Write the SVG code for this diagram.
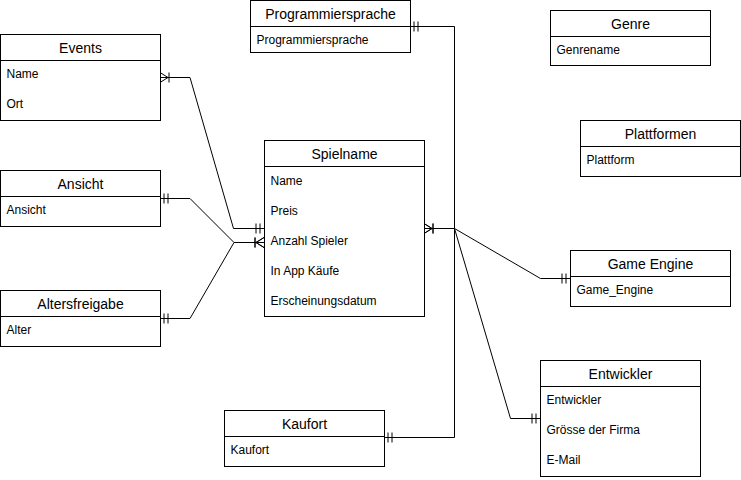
<svg xmlns="http://www.w3.org/2000/svg" width="741" height="480" viewBox="0 0 741 480">
<style>
  .box { fill: #ffffff; stroke: #000000; stroke-width: 1; }
  .div { stroke: #000000; stroke-width: 1; fill: none; }
  .title { font-family: "Liberation Sans", Arial, sans-serif; font-size: 14px; fill: #000000; text-anchor: middle; }
  .attr { font-family: "Liberation Sans", Arial, sans-serif; font-size: 12px; fill: #000000; }
  .conn { fill: none; stroke: #000000; stroke-width: 1; }
</style>
<defs>
  <marker id="mandOne" markerUnits="userSpaceOnUse" viewBox="0 0 20 20" markerWidth="20" markerHeight="20" refX="10" refY="10" orient="auto-start-reverse" overflow="visible">
    <path d="M6,5 V15 M2,5 V15" fill="none" stroke="#000" stroke-width="1"/>
  </marker>
  <marker id="oneMany" markerUnits="userSpaceOnUse" viewBox="0 0 20 20" markerWidth="20" markerHeight="20" refX="10" refY="10" orient="auto-start-reverse" overflow="visible">
    <path d="M10,5 L2,10 L10,15 M1,5 V15" fill="none" stroke="#000" stroke-width="1"/>
  </marker>
</defs>
<rect width="741" height="480" fill="#ffffff"/>

<g id="connectors">
  <path class="conn" d="M160,77.5 H190 L233.5,228.5 H264" marker-start="url(#oneMany)" marker-end="url(#mandOne)"/>
  <path class="conn" d="M160,198.5 H190 L234,242.5 H264" marker-start="url(#mandOne)" marker-end="url(#oneMany)"/>
  <path class="conn" d="M160,318.5 H190 L234,242.5 H264" marker-start="url(#mandOne)" marker-end="url(#oneMany)"/>
  <path class="conn" d="M410,26.5 H454.5 V228.5 H424" marker-start="url(#mandOne)" marker-end="url(#oneMany)"/>
  <path class="conn" d="M384,437.5 H454.5 V228.5 H424" marker-start="url(#mandOne)" marker-end="url(#oneMany)"/>
  <path class="conn" d="M424,228.5 H454.5 L540.5,278.5 H570" marker-end="url(#mandOne)"/>
  <path class="conn" d="M424,228.5 H454.5 L510.5,418.5 H540" marker-end="url(#mandOne)"/>
</g>

<g id="events">
  <rect class="box" x="0.5" y="34.5" width="160" height="86"/>
  <path class="div" d="M0.5,60.5 H160.5"/>
  <text class="title" x="80.5" y="52.5">Events</text>
  <text class="attr" x="6.5" y="78">Name</text>
  <text class="attr" x="6.5" y="108">Ort</text>
</g>

<g id="programmiersprache">
  <rect class="box" x="250.5" y="0.5" width="160" height="52"/>
  <path class="div" d="M250.5,26.5 H410.5"/>
  <text class="title" x="330.5" y="19">Programmiersprache</text>
  <text class="attr" x="256.5" y="44">Programmiersprache</text>
</g>

<g id="genre">
  <rect class="box" x="550.5" y="10.5" width="160" height="55"/>
  <path class="div" d="M550.5,36.5 H710.5"/>
  <text class="title" x="630.5" y="29">Genre</text>
  <text class="attr" x="556.5" y="54">Genrename</text>
</g>

<g id="plattformen">
  <rect class="box" x="580.5" y="120.5" width="160" height="56"/>
  <path class="div" d="M580.5,146.5 H740.5"/>
  <text class="title" x="660.5" y="139">Plattformen</text>
  <text class="attr" x="586.5" y="164">Plattform</text>
</g>

<g id="spielname">
  <rect class="box" x="264.5" y="140.5" width="160" height="176"/>
  <path class="div" d="M264.5,166.5 H424.5"/>
  <text class="title" x="344.5" y="159">Spielname</text>
  <text class="attr" x="270.5" y="185">Name</text>
  <text class="attr" x="270.5" y="215">Preis</text>
  <text class="attr" x="270.5" y="245">Anzahl Spieler</text>
  <text class="attr" x="270.5" y="275">In App Käufe</text>
  <text class="attr" x="270.5" y="305">Erscheinungsdatum</text>
</g>

<g id="ansicht">
  <rect class="box" x="0.5" y="170.5" width="160" height="56"/>
  <path class="div" d="M0.5,196.5 H160.5"/>
  <text class="title" x="80.5" y="189">Ansicht</text>
  <text class="attr" x="6.5" y="214">Ansicht</text>
</g>

<g id="altersfreigabe">
  <rect class="box" x="0.5" y="290.5" width="160" height="56"/>
  <path class="div" d="M0.5,316.5 H160.5"/>
  <text class="title" x="80.5" y="309">Altersfreigabe</text>
  <text class="attr" x="6.5" y="334">Alter</text>
</g>

<g id="game-engine">
  <rect class="box" x="570.5" y="250.5" width="160" height="56"/>
  <path class="div" d="M570.5,276.5 H730.5"/>
  <text class="title" x="650.5" y="269">Game Engine</text>
  <text class="attr" x="576.5" y="294">Game_Engine</text>
</g>

<g id="entwickler">
  <rect class="box" x="540.5" y="360.5" width="160" height="116"/>
  <path class="div" d="M540.5,386.5 H700.5"/>
  <text class="title" x="620.5" y="379">Entwickler</text>
  <text class="attr" x="546.5" y="404">Entwickler</text>
  <text class="attr" x="546.5" y="434">Grösse der Firma</text>
  <text class="attr" x="546.5" y="464">E-Mail</text>
</g>

<g id="kaufort">
  <rect class="box" x="224.5" y="410.5" width="160" height="56"/>
  <path class="div" d="M224.5,436.5 H384.5"/>
  <text class="title" x="304.5" y="429">Kaufort</text>
  <text class="attr" x="230.5" y="454">Kaufort</text>
</g>
</svg>
